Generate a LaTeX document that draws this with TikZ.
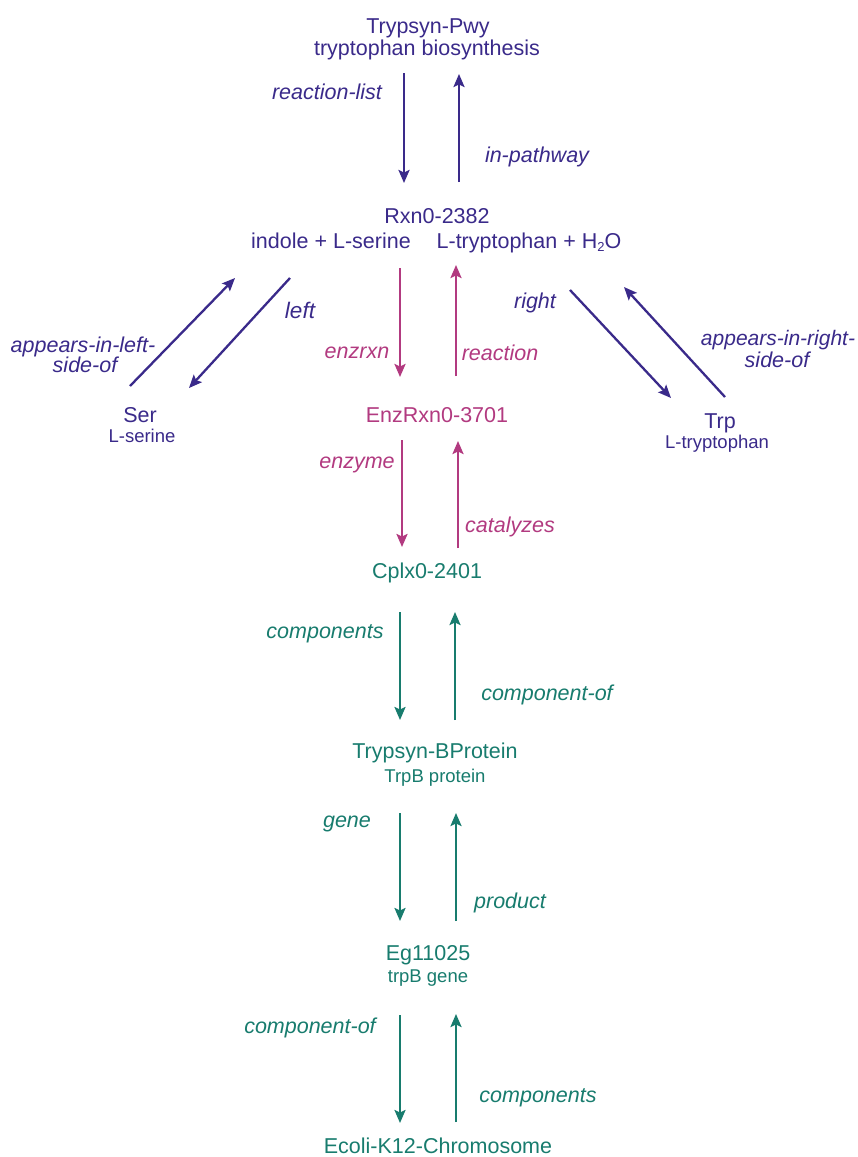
\documentclass[tikz,border=0pt]{standalone}
\usepackage{fontspec}
\setmainfont{Liberation Sans}
\usetikzlibrary{arrows.meta}
\definecolor{cpur}{RGB}{58,42,138}
\definecolor{cmag}{RGB}{178,58,128}
\definecolor{cteal}{RGB}{24,124,110}
\begin{document}
\begin{tikzpicture}[x=1pt,y=-1pt,
  txt/.style={anchor=base,inner sep=0pt,font=\fontsize{21.5}{25}\selectfont},
  sub/.style={anchor=base,inner sep=0pt,font=\fontsize{18.5}{22}\selectfont},
  lbl/.style={anchor=base,inner sep=0pt,font=\fontsize{21.5}{21}\selectfont\itshape},
  arr/.style={line width=2.3pt,-{Stealth[length=13pt,width=11pt,inset=2.5pt]}}]
\useasboundingbox[fill=white] (0,0) rectangle (858,1157);

% ---------- purple part ----------
\begin{scope}[color=cpur]
\node[txt] (pwy)  at (428,33) {Trypsyn-Pwy};
\node[txt] (pwyd) at (427,55) {tryptophan biosynthesis};
\coordinate (rl1) at (404,73);  \coordinate (rl2) at (404,183);
\coordinate (ip1) at (459,182); \coordinate (ip2) at (459,74);
\draw[arr] (rl1) -- (rl2);
\draw[arr] (ip1) -- (ip2);
\node[lbl] (lrl) at (327,99)  {reaction-list};
\node[lbl] (lip) at (537,162) {in-pathway};

\node[txt] (rxn)  at (437,223) {Rxn0-2382};
\node[txt] (rxnl) at (331,248) {indole + L-serine};
\node[txt] (rxnr) at (529,248) {L-tryptophan + H\raisebox{-0.35ex}{\fontsize{13}{13}\selectfont 2}O};

\coordinate (a1) at (130,386); \coordinate (a2) at (235,278);
\coordinate (l1) at (290,278); \coordinate (l2) at (189,388);
\draw[arr] (a1) -- (a2);
\draw[arr] (l1) -- (l2);
\node[lbl,font=\fontsize{22.5}{22}\selectfont\itshape] (lleft) at (300,318) {left};
\node[lbl] (lail1) at (83,352) {appears-in-left-};
\node[lbl] (lail2) at (85,372) {side-of};
\node[txt] (ser)  at (140,422) {Ser};
\node[sub] (serd) at (142,442) {L-serine};

\coordinate (r1) at (570,290);  \coordinate (r2) at (671,398);
\coordinate (ar1) at (725,397); \coordinate (ar2) at (624,287);
\draw[arr] (r1) -- (r2);
\draw[arr] (ar1) -- (ar2);
\node[lbl] (lright) at (535,308) {right};
\node[lbl,font=\fontsize{21}{21}\selectfont\itshape] (lair1) at (778,345) {appears-in-right-};
\node[lbl] (lair2) at (777,367) {side-of};
\node[txt] (trp)  at (720,428) {Trp};
\node[sub] (trpd) at (717,448) {L-tryptophan};
\end{scope}

% ---------- magenta part ----------
\begin{scope}[color=cmag]
\coordinate (ez1) at (400,268); \coordinate (ez2) at (400,377);
\coordinate (rc1) at (456,376); \coordinate (rc2) at (456,265);
\draw[arr] (ez1) -- (ez2);
\draw[arr] (rc1) -- (rc2);
\node[lbl] (lez) at (357,358) {enzrxn};
\node[lbl] (lrc) at (500,360) {reaction};
\node[txt] (enz) at (437,422) {EnzRxn0-3701};
\coordinate (em1) at (402,440); \coordinate (em2) at (402,547);
\coordinate (ca1) at (458,548); \coordinate (ca2) at (458,441);
\draw[arr] (em1) -- (em2);
\draw[arr] (ca1) -- (ca2);
\node[lbl] (lem) at (357,468) {enzyme};
\node[lbl] (lca) at (510,532) {catalyzes};
\end{scope}

% ---------- teal part ----------
\begin{scope}[color=cteal]
\node[txt] (cplx) at (427,578) {Cplx0-2401};
\coordinate (co1) at (400,612); \coordinate (co2) at (400,720);
\coordinate (cf1) at (455,720); \coordinate (cf2) at (455,612);
\draw[arr] (co1) -- (co2);
\draw[arr] (cf1) -- (cf2);
\node[lbl] (lco) at (325,638) {components};
\node[lbl] (lcf) at (547,700) {component-of};
\node[txt] (prot)  at (435,758) {Trypsyn-BProtein};
\node[sub] (protd) at (435,782) {TrpB protein};
\coordinate (g1) at (400,813); \coordinate (g2) at (400,921);
\coordinate (p1) at (456,921); \coordinate (p2) at (456,813);
\draw[arr] (g1) -- (g2);
\draw[arr] (p1) -- (p2);
\node[lbl] (lg) at (347,827) {gene};
\node[lbl] (lp) at (510,908) {product};
\node[txt] (eg)  at (428,960) {Eg11025};
\node[sub] (egd) at (428,982) {trpB gene};
\coordinate (c1) at (400,1015); \coordinate (c2) at (400,1123);
\coordinate (c3) at (456,1122); \coordinate (c4) at (456,1014);
\draw[arr] (c1) -- (c2);
\draw[arr] (c3) -- (c4);
\node[lbl] (lc1) at (310,1033) {component-of};
\node[lbl] (lc2) at (538,1102) {components};
\node[txt] (chrom) at (438,1153) {Ecoli-K12-Chromosome};
\end{scope}
\end{tikzpicture}
\end{document}
